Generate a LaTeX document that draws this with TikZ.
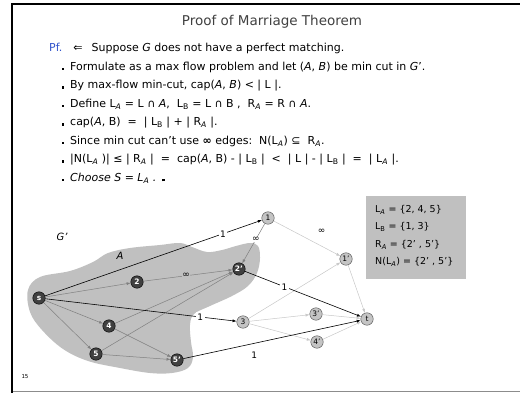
\documentclass[tikz,border=0pt]{standalone}
\usepackage{fontspec}
\setmainfont{DejaVu Sans}
\usetikzlibrary{arrows.meta}
\definecolor{blobgray}{RGB}{192,192,192}
\definecolor{pfblue}{RGB}{51,85,204}
\definecolor{darknode}{RGB}{64,64,64}
\definecolor{lightnode}{RGB}{196,196,196}
\newcommand{\sbA}{\textsubscript{\textit{A}}}
\newcommand{\sbB}{\textsubscript{B}}
\begin{document}
\begin{tikzpicture}[x=1pt,y=-1pt,
  txt/.style={anchor=base west, inner sep=0pt, font=\fontsize{11}{12}\selectfont},
  bul/.style={fill=black, inner sep=0pt, minimum size=2.4pt},
  dnode/.style={circle, draw=black, fill=darknode, text=white, minimum size=12.5pt, inner sep=0pt, font=\fontsize{7.5}{8}\selectfont\bfseries},
  lnode/.style={circle, draw=black!70, fill=lightnode, text=black, minimum size=12.5pt, inner sep=0pt, font=\fontsize{7.5}{8}\selectfont},
  blk/.style={draw=black, line width=0.6pt, -{Latex[length=4pt,width=3pt]}},
  mid/.style={draw=black!50, line width=0.5pt, -{Latex[length=4pt,width=3pt]}},
  lgt/.style={draw=black!22, line width=0.5pt, -{Latex[length=4pt,width=3pt]}},
  elab/.style={font=\fontsize{9}{10}\selectfont, fill=white, inner sep=1.5pt},
  inflab/.style={font=\fontsize{9}{10}\selectfont, inner sep=0.5pt}
]
\useasboundingbox (0,0) rectangle (520,393);
% frame
\draw[line width=2pt] (12,393) -- (12,4) -- (520,4);
\draw[black!45, line width=1pt] (13,391) -- (520,391);
% title
\node[font=\fontsize{13.5}{15}\selectfont, text=black!75] (title) at (272,22) {Proof of Marriage Theorem};
% text
\node[txt] (t1) at (49,52) {{\color{pfblue}Pf.}\hspace{11pt}⇐\hspace{9pt}Suppose \textit{G} does not have a perfect matching.};
\node[bul] (b2) at (63,69) {};
\node[txt] (t2) at (70,70.5) {Formulate as a max flow problem and let (\textit{A}, \textit{B}) be min cut in \textit{G}'.};
\node[bul] (b3) at (63,87.5) {};
\node[txt] (t3) at (70,89) {By max-flow min-cut, cap(\textit{A}, \textit{B}) < | L |.};
\node[bul] (b4) at (63,106) {};
\node[txt] (t4) at (70,107.5) {Define L\sbA\ = L ∩ \textit{A},\ \ L\sbB\ = L ∩ B ,\ \ R\sbA\ = R ∩ \textit{A}.};
\node[bul] (b5) at (63,124.5) {};
\node[txt] (t5) at (70,126) {cap(\textit{A}, B)\ \ =\ \ | L\sbB\ | + | R\sbA\ |.};
\node[bul] (b6) at (63,143) {};
\node[txt] (t6) at (70,144.5) {Since min cut can't use \textbf{∞} edges:\ \ N(L\sbA) ⊆\ \ R\sbA.};
\node[bul] (b7) at (63,161.5) {};
\node[txt] (t7) at (70,163) {|N(L\sbA\ )| ≤ | R\sbA\ |\ \ =\ \ cap(\textit{A}, B) - | L\sbB\ |\ \ <\ \ | L | - | L\sbB\ |\ \ =\ \ | L\sbA\ |.};
\node[bul] (b8) at (63,180) {};
\node[txt] (t8) at (70,181.5) {\textit{Choose S = L\sbA\ .}\hspace{6pt}\rule{2.4pt}{2.4pt}};
% blob
\fill[blobgray] plot[smooth cycle, tension=0.6] coordinates {
 (28,290) (40,277) (70,271) (93,262) (108,253) (130,248) (160,245) (180,243)
 (192,247) (207,252) (222,250) (236,246) (250,243) (258,246) (260,258) (257,273)
 (248,286) (232,296) (210,306) (194,314) (190,325) (191,342) (193,357) (188,368)
 (172,373) (150,373) (120,368) (88,361) (63,349) (42,330) (30,312)};
\node[font=\fontsize{10}{12}\selectfont\itshape] (gp) at (62,237) {G'};
\node[font=\fontsize{10}{12}\selectfont\itshape] (la) at (120,256) {A};
% nodes
\node[dnode] (s) at (39,298) {s};
\node[dnode] (n2) at (137,282) {2};
\node[dnode] (n4) at (109,326) {4};
\node[dnode] (n5) at (96,354) {5};
\node[dnode] (m2) at (239,269) {2'};
\node[dnode] (m5) at (177,360) {5'};
\node[lnode] (n1) at (268,218) {1};
\node[lnode] (n3) at (243,322) {3};
\node[lnode] (m1) at (346,259) {1'};
\node[lnode] (m3) at (316,314) {3'};
\node[lnode] (m4) at (317,342) {4'};
\node[lnode] (t) at (367,319) {t};
% edges
\draw[mid] (s) -- (n2);
\draw[mid] (s) -- (n4);
\draw[mid] (s) -- (n5);
\draw[mid] (n2) -- node[inflab, pos=0.48, fill=blobgray] (i1) {∞} (m2);
\draw[mid] (n4) -- (m2);
\draw[mid] (n4) -- (m5);
\draw[mid] (n5) -- (m2);
\draw[mid] (n5) -- (m5);
\draw[mid] (n1) -- node[inflab, pos=0.4, fill=white] (i2) {∞} (m2);
\draw[lgt] (n1) -- node[inflab, pos=0.72, above=12pt] (i3) {∞} (m1);
\draw[lgt] (n3) -- (m1);
\draw[lgt] (n3) -- (m3);
\draw[lgt] (n3) -- (m4);
\draw[lgt] (m1) -- (t);
\draw[lgt] (m3) -- (t);
\draw[lgt] (m4) -- (t);
\draw[blk] (s) -- node[elab, pos=0.82] (e1) {1} (n1);
\draw[blk] (s) -- node[elab, pos=0.81] (e2) {1} (n3);
\draw[blk] (m2) -- node[elab, pos=0.34] (e3) {1} (t);
\draw[blk] (m5) -- node[font=\fontsize{9}{10}\selectfont, pos=0.4, below=5pt] (e4) {1} (t);
% info box
\node[fill=blobgray, anchor=north west, minimum width=100pt, minimum height=83pt, inner sep=0pt] (box) at (366,196) {};
\node[anchor=north west, align=left, font=\fontsize{9.5}{17.5}\selectfont, inner sep=0pt] (boxtxt) at (375,205) {L\sbA\ = \{2, 4, 5\}\\L\sbB\ = \{1, 3\}\\R\sbA\ = \{2' , 5'\}\\N(L\sbA) = \{2' , 5'\}};
% page number
\node[font=\fontsize{5.5}{6}\selectfont] (pg) at (25,377) {15};
\end{tikzpicture}
\end{document}
